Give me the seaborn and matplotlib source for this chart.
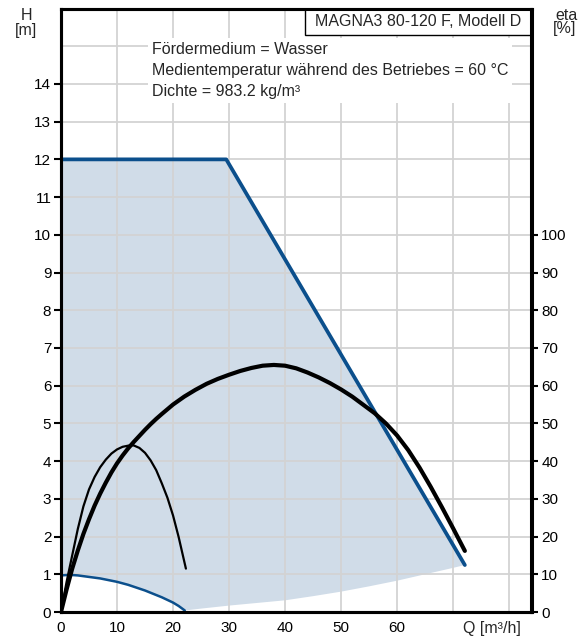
import numpy as np
import pandas as pd
import matplotlib
matplotlib.use("Agg")
import matplotlib.pyplot as plt
from matplotlib.patches import Rectangle
import seaborn as sns

# ---------------- data ----------------
# maximum curve (H, m)
q_max = [0.0, 29.5, 72.1]
h_max = [12.0, 12.0, 1.245]
# minimum curve (H, m)
q_min = [0, 1, 2, 3, 4, 5, 6, 7, 8, 9, 10, 11, 12, 13, 14, 15, 16, 17, 18, 19, 20, 21, 22.1]
h_min = [0.97, 0.98, 0.98, 0.97, 0.95, 0.93, 0.91, 0.89, 0.86, 0.83, 0.80, 0.76, 0.72,
         0.67, 0.62, 0.57, 0.51, 0.45, 0.39, 0.32, 0.25, 0.16, 0.04]
# lower boundary of operating range (system curve)
q_sys = [22.1, 25, 30, 35, 40, 45, 50, 55, 60, 65, 70, 72.1]
h_sys = [0.04, 0.09, 0.17, 0.24, 0.31, 0.42, 0.54, 0.68, 0.83, 1.00, 1.17, 1.245]
# efficiency at max curve (%)
q_eta_max = [0, 1, 2, 3, 4, 5, 6, 7, 8, 9, 10, 11, 12, 13, 14, 15, 16, 17, 18, 20, 22, 24,
             26, 28, 30, 32, 34, 36, 38, 40, 42, 44, 46, 48, 50, 52, 54, 56, 58, 60, 62,
             64, 66, 68, 70, 72.1]
eta_max = [0.0, 6.0, 11.5, 16.3, 20.7, 24.6, 28.2, 31.4, 34.3, 37.0, 39.4, 41.5, 43.4,
           45.1, 46.7, 48.3, 49.8, 51.2, 52.5, 55.0, 57.1, 58.9, 60.5, 61.8, 62.9, 63.9,
           64.7, 65.3, 65.5, 65.3, 64.6, 63.5, 62.2, 60.7, 59.0, 57.1, 54.9, 52.7, 50.0,
           46.8, 42.9, 38.3, 33.2, 27.8, 22.2, 16.2]
# efficiency at min curve (%)
q_eta_min = [0, 1, 2, 3, 4, 5, 6, 7, 8, 9, 10, 11, 12, 12.6, 13, 14, 15, 16, 17, 18, 19,
             20, 21, 22.3]
eta_min = [0.0, 8.0, 15.0, 22.0, 28.0, 32.5, 35.8, 38.4, 40.4, 42.0, 43.1, 43.8, 44.1,
           44.2, 44.15, 43.5, 42.2, 40.2, 37.6, 34.1, 30.3, 25.6, 19.9, 11.5]

x_ticks = [0, 10, 20, 30, 40, 50, 60, 70, 80]
x_labels = ["0", "10", "20", "30", "40", "50", "60", "", ""]
h_ticks = list(range(0, 15))
eta_ticks = list(range(0, 101, 10))

# ---------------- style ----------------
sns.set_theme(style="white")
plt.rcParams['font.family'] = ['Liberation Sans', 'DejaVu Sans']
plt.rcParams['font.size'] = 11

BLUE = "#0b4f8c"
FILL = "#d0dce8"
GRID = "#d3d3d3"
TXT = 11.5

fig = plt.figure(figsize=(5.88, 6.37), dpi=100)
ax = fig.add_axes([61/588, 25/637, 470.5/588, 603.5/637])
ax.set_xlim(0, 84)
ax.set_ylim(0, 16)

# operating range fill
poly_q = q_max + q_sys[::-1] + q_min[::-1]
poly_h = h_max + h_sys[::-1] + h_min[::-1]
ax.fill(poly_q, poly_h, color=FILL, lw=0, zorder=1)

# grid
for xv in x_ticks[1:]:
    ax.axvline(xv, color=GRID, lw=1.3, zorder=2)
for hv in range(1, 16):
    ax.axhline(hv, color=GRID, lw=1.3, zorder=2)

df_max = pd.DataFrame({"Q": q_max, "H": h_max})
df_min = pd.DataFrame({"Q": q_min, "H": h_min})
sns.lineplot(data=df_max, x="Q", y="H", ax=ax, color=BLUE, lw=2.7, sort=False, zorder=3)
sns.lineplot(data=df_min, x="Q", y="H", ax=ax, color=BLUE, lw=1.8, sort=False, zorder=3)

ax2 = ax.twinx()
ax2.set_ylim(0, 160)
df_em = pd.DataFrame({"Q": q_eta_max, "eta": eta_max})
df_en = pd.DataFrame({"Q": q_eta_min, "eta": eta_min})
sns.lineplot(data=df_em, x="Q", y="eta", ax=ax2, color="black", lw=3.0, sort=False, zorder=4)
sns.lineplot(data=df_en, x="Q", y="eta", ax=ax2, color="black", lw=1.6, sort=False, zorder=4)

# axes styling
for a in (ax, ax2):
    for s in a.spines.values():
        s.set_color("black")
        s.set_linewidth(2.2)
    a.set_xlabel("")
    a.set_ylabel("")

ax.set_xticks(x_ticks)
ax.set_xticklabels(x_labels)
ax.set_yticks(h_ticks)
ax.tick_params(axis="both", direction="out", length=5, width=1.5, color="black",
               labelsize=11, labelcolor="black", pad=2)
ax.tick_params(axis="x", pad=1.5)
ax2.set_yticks(eta_ticks)
ax2.tick_params(axis="y", direction="out", length=5, width=1.5, color="black",
                labelsize=11, labelcolor="black", pad=2)

# annotations
fig.text(27/588, 1 - 15/637, "H", ha="center", va="center", fontsize=TXT)
fig.text(26/588, 1 - 30/637, "[m]", ha="center", va="center", fontsize=TXT)
fig.text(566/588, 1 - 15/637, "eta", ha="center", va="center", fontsize=TXT)
fig.text(565/588, 1 - 29/637, "[%]", ha="center", va="center", fontsize=TXT)
fig.text(492/588, 1 - 628/637, "Q [m³/h]", ha="center", va="center", fontsize=TXT)

rect = Rectangle((0.5186, 0.956), 1 - 0.5186, 0.044, transform=ax.transAxes,
                 facecolor="white", edgecolor="black", lw=1.0, zorder=6)
ax.add_patch(rect)
ax.text(0.758, 0.978, "MAGNA3 80-120 F, Modell D", transform=ax.transAxes,
        ha="center", va="center", fontsize=TXT, zorder=7)

ax.text(16.2, 14.36,
        "Fördermedium = Wasser\nMedientemperatur während des Betriebes = 60 °C\nDichte = 983.2 kg/m³",
        ha="left", va="center", fontsize=TXT, linespacing=1.5, zorder=6,
        bbox=dict(facecolor="white", edgecolor="none", pad=3))

fig.savefig("out.png", dpi=100)
